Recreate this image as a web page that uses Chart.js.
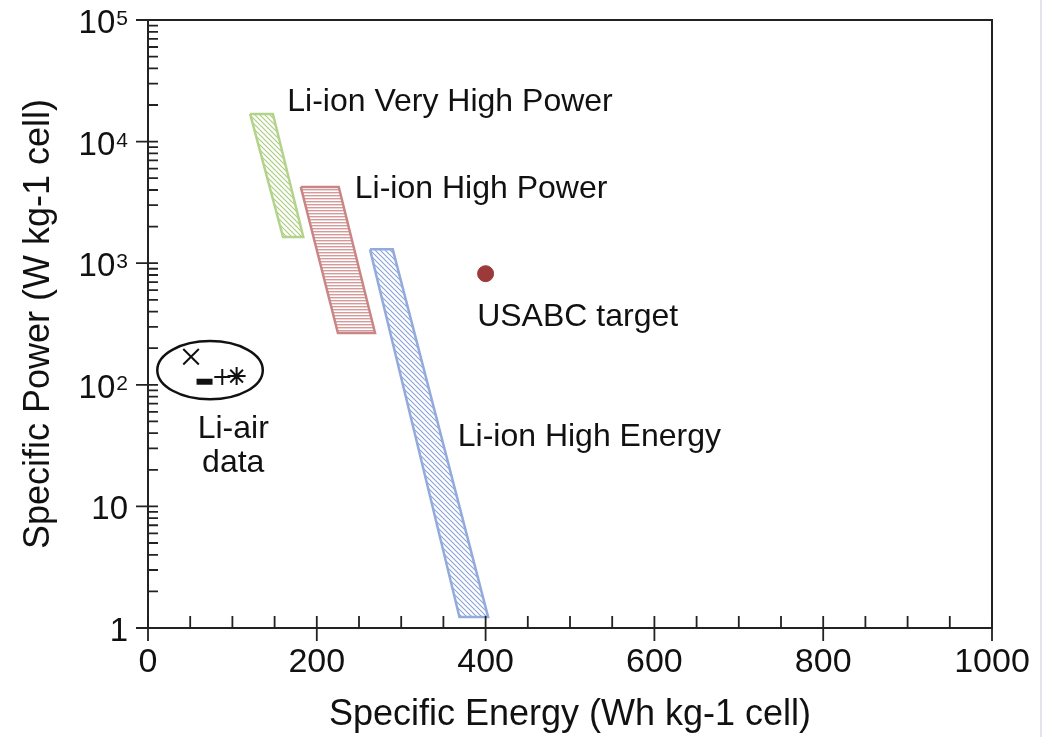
<!DOCTYPE html>
<html>
<head>
<meta charset="utf-8">
<script src="https://cdn.jsdelivr.net/npm/chart.js@4.4.1/dist/chart.umd.min.js"></script>
<style>
  html, body { margin: 0; padding: 0; background: #fff; }
</style>
</head>
<body>
<canvas id="chart" width="1042" height="737"></canvas>
<script>
// ---- data ----
// polygons are closed, first corner repeated at the end
const veryHighPowerEnergy = [121, 148, 184, 160, 121];
const veryHighPowerPower = [16900, 16900, 1640, 1640, 16900];
const highPowerEnergy = [181, 226, 269, 225, 181];
const highPowerPower = [4240, 4240, 267, 267, 4240];
const highEnergyEnergy = [263, 290, 403, 369, 263];
const highEnergyPower = [1300, 1300, 1.23, 1.23, 1300];

const usabcEnergy = [400];
const usabcPower = [820];

const liAirEnergy = [51, 67, 88, 105];
const liAirPower = [170, 106, 116, 118];
// extent of the circled Li-air region
const liAirOutlineEnergy = [11, 136];
const liAirOutlinePower = [76, 229];

const xTickValues = [0, 200, 400, 600, 800, 1000];
const xTickLabels = ['0', '200', '400', '600', '800', '1000'];
const yTickValues = [1, 10, 100, 1000, 10000, 100000];
const yTickBase = ['1', '10', '10', '10', '10', '10'];
const yTickExp = ['', '', '2', '3', '4', '5'];

// text annotations, anchored in data space
const noteText = ['Li-ion Very High Power', 'Li-ion High Power', 'USABC target', 'Li-ion High Energy', 'Li-air', 'data'];
const noteEnergy = [165, 245, 390, 367, 101, 101];
const notePower = [17900, 3440, 305, 31.4, 36.5, 19.2];
const noteAlign = ['left', 'left', 'left', 'left', 'center', 'center'];

const FONT = '"Liberation Sans", Arial, Helvetica, sans-serif';
const INK = '#111';

function pts(xs, ys) {
  return xs.map((x, i) => ({ x: x, y: ys[i] }));
}

function hatch(color, kind) {
  const c = document.createElement('canvas');
  const s = kind === 'horiz' ? 3 : 5;
  c.width = s; c.height = s;
  const g = c.getContext('2d');
  g.fillStyle = '#fff';
  g.fillRect(0, 0, s, s);
  g.strokeStyle = color;
  g.fillStyle = color;
  if (kind === 'horiz') {
    g.fillRect(0, 0, s, 1.4);
  } else {
    g.lineWidth = 1.1;
    g.beginPath();
    g.moveTo(-1, -1); g.lineTo(s + 1, s + 1);
    g.moveTo(-1, s - 1); g.lineTo(1, s + 1);
    g.moveTo(s - 1, -1); g.lineTo(s + 1, 1);
    g.stroke();
  }
  return g.createPattern(c, 'repeat');
}

function polygon(label, xs, ys, line, pattern) {
  return {
    label: label,
    data: pts(xs, ys),
    showLine: true,
    borderColor: line,
    borderWidth: 2.5,
    borderJoinStyle: 'miter',
    pointRadius: 0,
    fill: false,
    hatchFill: pattern
  };
}

// fills the closed polygons with their hatch before the outlines go on
const hatchPlugin = {
  id: 'hatchFill',
  beforeDatasetsDraw(chart) {
    const ctx = chart.ctx;
    chart.data.datasets.forEach((ds, i) => {
      if (!ds.hatchFill) return;
      const els = chart.getDatasetMeta(i).data;
      ctx.save();
      ctx.beginPath();
      els.forEach((p, j) => j ? ctx.lineTo(p.x, p.y) : ctx.moveTo(p.x, p.y));
      ctx.closePath();
      ctx.fillStyle = ds.hatchFill;
      ctx.fill();
      ctx.restore();
    });
  }
};

// ticks, frame, y labels with exponents, ellipse, notes
const decorPlugin = {
  id: 'decor',
  afterDraw(chart) {
    const ctx = chart.ctx;
    const xs = chart.scales.x, ys = chart.scales.y;
    const a = chart.chartArea;
    ctx.save();
    ctx.strokeStyle = '#222';
    ctx.lineWidth = 2;

    // frame top and right
    ctx.beginPath();
    ctx.moveTo(a.left, a.top);
    ctx.lineTo(a.right, a.top);
    ctx.lineTo(a.right, a.bottom);
    ctx.stroke();

    // x ticks
    ctx.lineWidth = 1.8;
    ctx.beginPath();
    for (let v = 0; v <= 1000; v += 50) {
      const px = xs.getPixelForValue(v);
      const major = xTickValues.includes(v);
      ctx.moveTo(px, a.bottom - 12);
      ctx.lineTo(px, a.bottom + (major ? 13 : 0));
    }
    // y ticks
    for (let d = 1; d <= 100000; d *= 10) {
      for (let m = 1; m <= 9; m++) {
        const v = d * m;
        if (v > 100000) break;
        const py = ys.getPixelForValue(v);
        ctx.moveTo(a.left + 10, py);
        ctx.lineTo(a.left - (m === 1 ? 12 : 0), py);
      }
    }
    ctx.stroke();

    // y labels
    ctx.fillStyle = INK;
    ctx.textBaseline = 'alphabetic';
    ctx.textAlign = 'right';
    yTickValues.forEach((v, i) => {
      const py = ys.getPixelForValue(v);
      let right = a.left - 20;
      if (yTickExp[i]) {
        ctx.font = '21px ' + FONT;
        ctx.fillText(yTickExp[i], right, py + 5);
        right -= ctx.measureText(yTickExp[i]).width + 1;
      }
      ctx.font = '33px ' + FONT;
      ctx.fillText(yTickBase[i], right, py + 13);
    });

    // Li-air ellipse
    const x0 = xs.getPixelForValue(liAirOutlineEnergy[0]);
    const x1 = xs.getPixelForValue(liAirOutlineEnergy[1]);
    const y0 = ys.getPixelForValue(liAirOutlinePower[0]);
    const y1 = ys.getPixelForValue(liAirOutlinePower[1]);
    ctx.lineWidth = 2.5;
    ctx.strokeStyle = '#111';
    ctx.beginPath();
    ctx.ellipse((x0 + x1) / 2, (y0 + y1) / 2, Math.abs(x1 - x0) / 2, Math.abs(y1 - y0) / 2, 0, 0, Math.PI * 2);
    ctx.stroke();

    // notes
    ctx.font = '32px ' + FONT;
    noteText.forEach((t, i) => {
      ctx.textAlign = noteAlign[i];
      ctx.fillText(t, xs.getPixelForValue(noteEnergy[i]), ys.getPixelForValue(notePower[i]));
    });

    // faint page edge on the right
    ctx.strokeStyle = '#e4e4f0';
    ctx.lineWidth = 2;
    ctx.beginPath();
    ctx.moveTo(chart.width - 1, 0);
    ctx.lineTo(chart.width - 1, chart.height);
    ctx.stroke();
    ctx.restore();
  }
};

const ctx = document.getElementById('chart').getContext('2d');

new Chart(ctx, {
  type: 'scatter',
  data: {
    datasets: [
      polygon('Li-ion Very High Power', veryHighPowerEnergy, veryHighPowerPower, '#b3d38a', hatch('#a9cc7c', 'diag')),
      polygon('Li-ion High Power', highPowerEnergy, highPowerPower, '#c98686', hatch('#d59a9a', 'horiz')),
      polygon('Li-ion High Energy', highEnergyEnergy, highEnergyPower, '#93abdc', hatch('#8aa2d6', 'diag')),
      {
        label: 'USABC target',
        data: pts(usabcEnergy, usabcPower),
        pointRadius: 8,
        pointBackgroundColor: '#9c3a3a',
        pointBorderColor: '#9c3a3a'
      },
      {
        label: 'Li-air data',
        data: pts(liAirEnergy, liAirPower),
        pointStyle: ['crossRot', 'line', 'cross', 'star'],
        pointRadius: [11, 8, 8, 9],
        pointBorderWidth: [2, 6, 2, 2],
        pointBorderColor: '#111',
        pointBackgroundColor: '#111'
      }
    ]
  },
  options: {
    responsive: false,
    animation: false,
    layout: { padding: { left: 0, right: 50, top: 20, bottom: 0 } },
    plugins: {
      legend: { display: false },
      tooltip: { enabled: false }
    },
    scales: {
      x: {
        type: 'linear',
        min: 0,
        max: 1000,
        afterBuildTicks: s => { s.ticks = xTickValues.map(v => ({ value: v })); },
        ticks: {
          color: INK,
          font: { size: 34, family: FONT },
          padding: 14,
          maxRotation: 0,
          callback: (v, i) => xTickLabels[i]
        },
        grid: { display: false, drawTicks: false, tickLength: 0 },
        border: { display: true, color: '#222', width: 2 },
        title: {
          display: true,
          text: 'Specific Energy (Wh kg-1 cell)',
          color: INK,
          font: { size: 36, family: FONT },
          padding: { top: 0, bottom: 0 }
        },
        afterFit: s => { s.height = 109; s.paddingLeft = 0; s.paddingRight = 0; }
      },
      y: {
        type: 'logarithmic',
        min: 1,
        max: 100000,
        ticks: { display: false },
        grid: { display: false, drawTicks: false, tickLength: 0 },
        border: { display: true, color: '#222', width: 2 },
        title: {
          display: true,
          text: 'Specific Power (W kg-1 cell)',
          color: INK,
          font: { size: 36, family: FONT },
          padding: { top: 17, bottom: 0 }
        },
        afterFit: s => { s.width = 148; s.paddingTop = 0; s.paddingBottom = 0; }
      }
    }
  },
  plugins: [hatchPlugin, decorPlugin]
});
</script>
</body>
</html>
